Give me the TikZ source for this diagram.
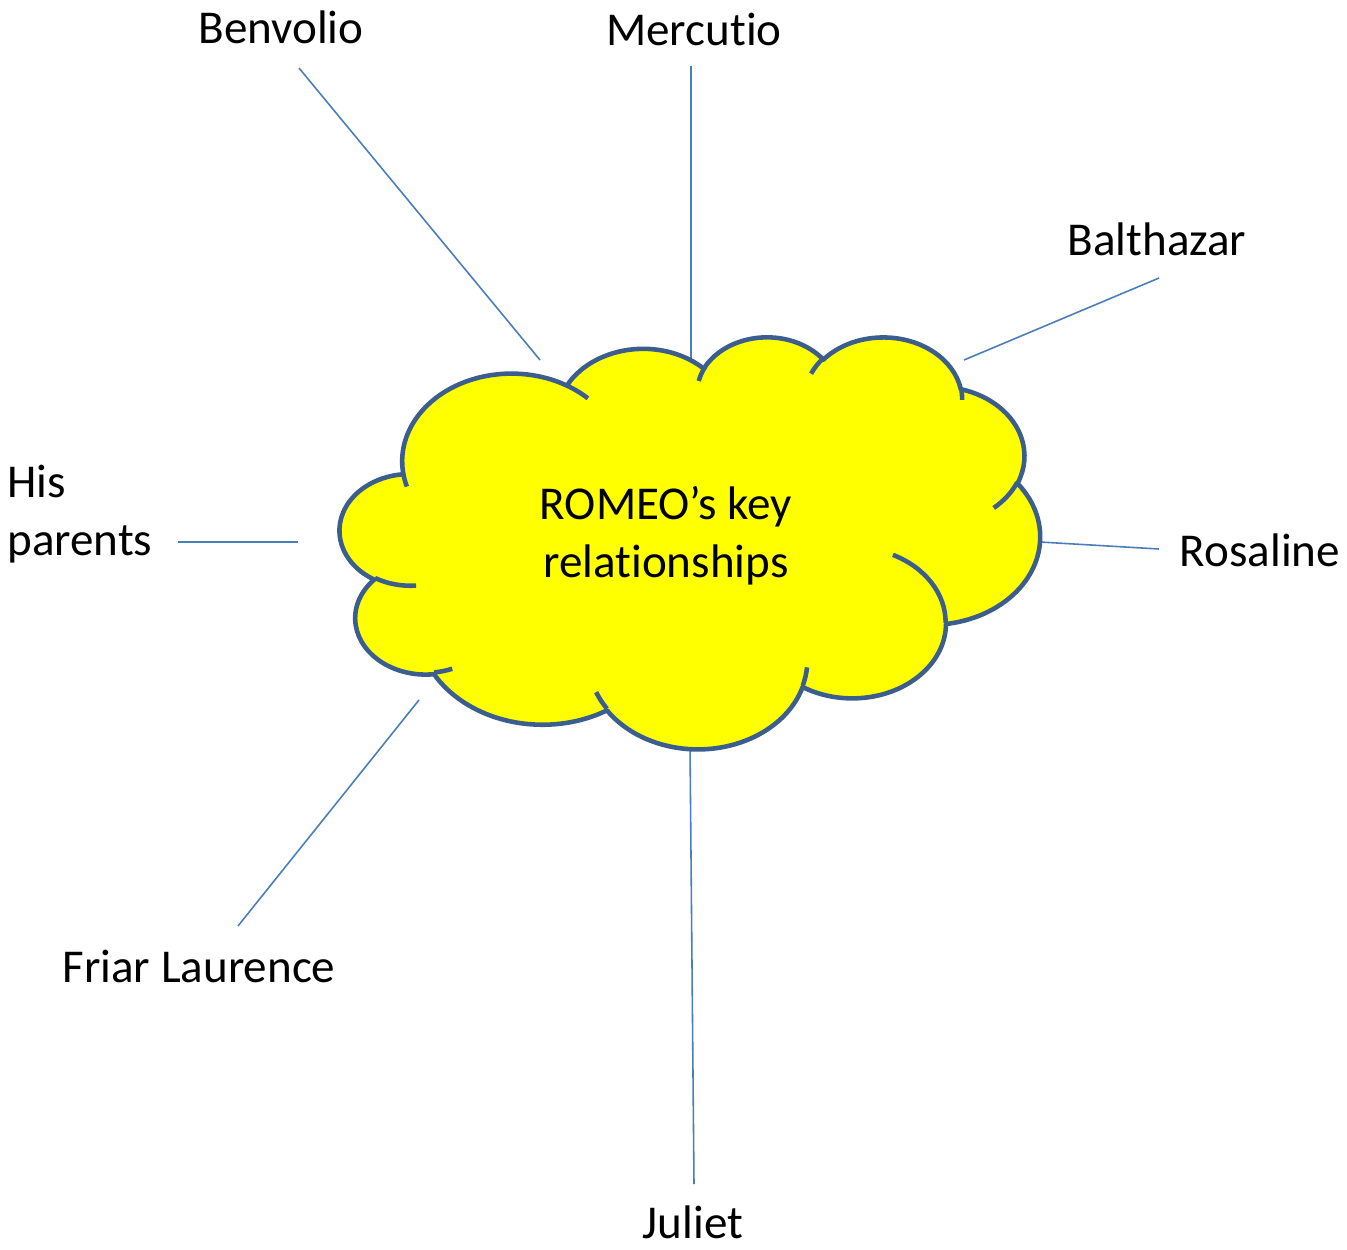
\documentclass[tikz,border=0pt]{standalone}
\usepackage{fontspec}
\setmainfont{Carlito}[Ligatures=NoCommon]
\definecolor{cloudedge}{HTML}{3B5E8E}
\definecolor{cloudfill}{HTML}{FFFF00}
\definecolor{linkblue}{HTML}{4A7EBB}
\newcommand\CArc[4]{arc[x radius=#1, y radius=#2, start angle={atan2(#1*sin(#3),#2*cos(#3))}, delta angle={mod(atan2(#1*sin(#3+#4),#2*cos(#3+#4))-atan2(#1*sin(#3),#2*cos(#3))+720,360)}]}
\tikzset{
  label/.style={inner sep=0pt, font=\fontsize{26.8pt}{33pt}\selectfont, text=black},
  link/.style={draw=linkblue, line width=0.9pt},
  cloudbody/.style={fill=cloudfill, draw=cloudedge, line width=2.6pt, line join=round},
  cloudtick/.style={draw=cloudedge, line width=2.6pt}
}
\begin{document}
\begin{tikzpicture}[x=0.02cm, y=-0.02cm]
\useasboundingbox[fill=white] (0,0) rectangle (1347,1249);
% labels
\node[label, anchor=base] (benvolio) at (281,43) {Benvolio};
\node[label, anchor=base] (mercutio) at (694,45) {Mercutio};
\node[label, anchor=base] (balthazar) at (1157,255) {Balthazar};
\node[label, anchor=base] (rosaline) at (1260,566) {Rosaline};
\node[label, anchor=base west, align=left] (parents) at (7,555) {His\\parents};
\node[label, anchor=base] (friar) at (199,982) {Friar Laurence};
\node[label, anchor=base] (juliet) at (693,1238) {Juliet};
% connector ends
\coordinate (benA) at (299,68);   \coordinate (benB) at (540,360);
\coordinate (merA) at (691,66);   \coordinate (merB) at (691,378);
\coordinate (balA) at (1159,278); \coordinate (balB) at (964,360);
\coordinate (rosA) at (1159,549); \coordinate (rosB) at (1040,542);
\coordinate (parA) at (178,542);  \coordinate (parB) at (298,542);
\coordinate (friA) at (238,926);  \coordinate (friB) at (419,700);
\coordinate (julA) at (690,745);  \coordinate (julB) at (694,1184);
\draw[link] (benA) -- (benB);
\draw[link] (merA) -- (merB);
\draw[link] (balA) -- (balB);
\draw[link] (rosA) -- (rosB);
\draw[link] (parA) -- (parB);
\draw[link] (friA) -- (friB);
\draw[link] (julA) -- (julB);
% cloud
\begin{scope}[shift={(340,336)}, x=0.032407cm, y=-0.019074cm]
\path[cloudbody] (39.00,143.70)
  \CArc{67.53}{91.90}{-190.4875}{123.7805}
  \CArc{53.33}{72.67}{-144.1024}{89.9452}
  \CArc{43.65}{59.45}{-145.8079}{99.7230}
  \CArc{48.57}{65.95}{-130.9861}{117.2417}
  \CArc{53.33}{72.73}{-78.7089}{109.0269}
  \CArc{67.75}{92.20}{-46.2673}{130.2690}
  \CArc{57.85}{78.67}{0.6250}{114.0333}
  \CArc{67.52}{92.15}{22.4516}{115.1726}
  \CArc{77.20}{105.43}{66.2426}{75.7110}
  \CArc{43.60}{59.18}{-274.9421}{146.7356}
  \CArc{43.45}{59.45}{-246.8285}{152.5189}
  -- cycle;
\draw[cloudtick] (46.93,261.77) \CArc{43.45}{59.45}{86.7420}{26.4295};
\draw[cloudtick] (69.28,348.99) \CArc{43.60}{59.18}{73.6105}{11.4475};
\draw[cloudtick] (164.78,390.90) \CArc{67.52}{92.15}{137.6242}{14.0811};
\draw[cloudtick] (288.27,347.51) \CArc{67.52}{92.15}{6.4533}{15.9984};
\draw[cloudtick] (341.29,229.54) \CArc{57.85}{78.67}{-70.2924}{70.9174};
\draw[cloudtick] (417.98,153.54) \CArc{53.33}{72.73}{30.3180}{27.7515};
\draw[cloudtick] (383.24,54.26) \CArc{48.57}{65.95}{-13.7443}{14.8589};
\draw[cloudtick] (290.78,39.52) \CArc{48.57}{65.95}{-149.1815}{18.1954};
\draw[cloudtick] (221.41,47.20) \CArc{43.65}{59.45}{-163.4943}{19.0050};
\draw[cloudtick] (140.00,51.92) \CArc{67.53}{91.90}{-66.7070}{12.3194};
\draw[cloudtick] (41.27,157.89) \CArc{67.53}{91.90}{157.6544}{11.8582};
\end{scope}
\node[label, align=center, anchor=base] (romeo) at (666,577) {ROMEO’s key\\relationships};
\end{tikzpicture}
\end{document}
